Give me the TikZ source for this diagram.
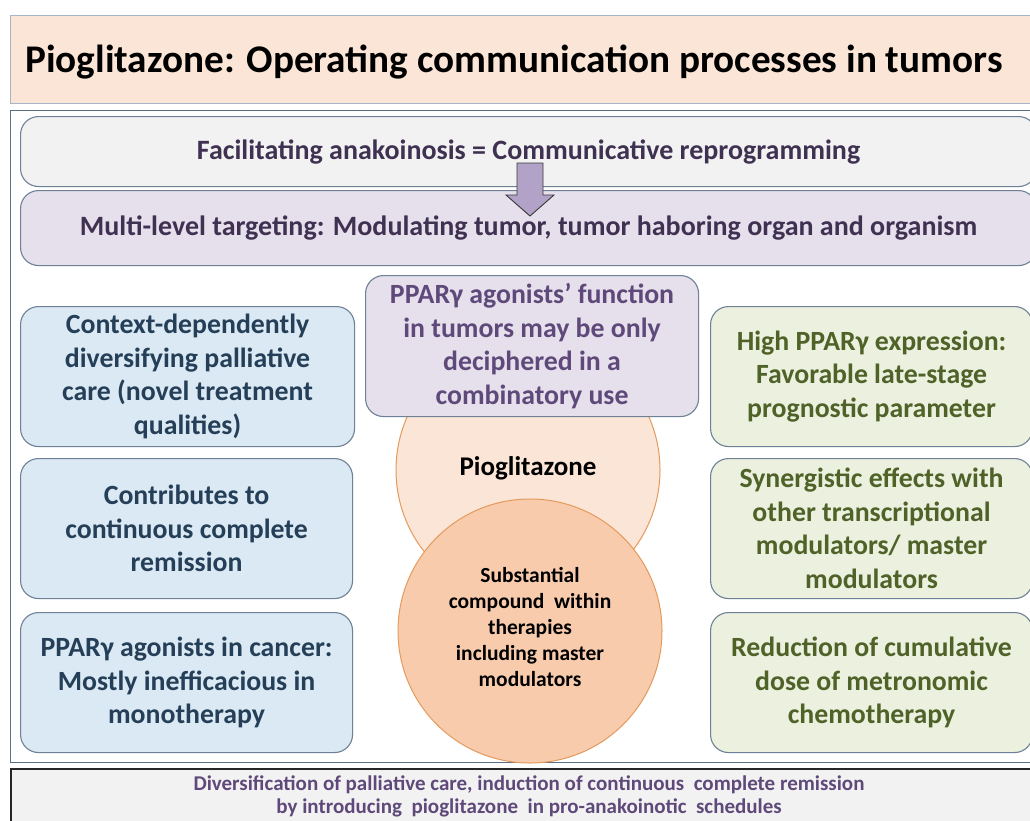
\documentclass[tikz,border=0pt]{standalone}
\usepackage{fontspec}
\setmainfont{Carlito}
\begin{document}
\begin{tikzpicture}[x=1pt,y=-1pt,
  frame/.style={draw=frameedge, line width=1.4pt},
  rbox/.style={draw=boxedge, line width=1.1pt, rounded corners=18pt},
  bodyfont/.style={font=\bfseries\fontsize{27.8}{33.5}\selectfont},
  lbox/.style={rbox, fill=leftfill, text=lefttext, bodyfont, align=center},
  gbox/.style={rbox, fill=rightfill, text=righttext, bodyfont, align=center},
  cbox/.style={rbox, fill=lav, text=centertext, bodyfont, align=center},
  circ/.style={circle, draw=orangeedge, line width=1pt}
]
\definecolor{peach}{HTML}{FBE5D6}
\definecolor{peach2}{HTML}{F8CBAD}
\definecolor{orangeedge}{HTML}{E49A5C}
\definecolor{lav}{HTML}{E6E0EC}
\definecolor{leftfill}{HTML}{DAE9F3}
\definecolor{rightfill}{HTML}{EBF0DF}
\definecolor{lefttext}{HTML}{253F58}
\definecolor{righttext}{HTML}{4F6228}
\definecolor{centertext}{HTML}{5F497A}
\definecolor{toptext}{HTML}{3F3151}
\definecolor{greyfill}{HTML}{F2F2F2}
\definecolor{arrowfill}{HTML}{B3A2C7}
\definecolor{frameedge}{HTML}{5C6E84}
\definecolor{boxedge}{HTML}{6F8196}
\definecolor{titleedge}{HTML}{A7B6C6}
\clip (0,0) rectangle (1030,820);
\fill[white] (0,0) rectangle (1030,820);
% title
\node[draw=titleedge, line width=1pt, fill=peach, minimum width=1040pt, minimum height=88pt, anchor=north west, inner sep=0pt] (titlebox) at (10,15) {};
\node[anchor=west, font=\bfseries\fontsize{39.2}{44}\selectfont, inner sep=0pt] (title) at (25,62) {Pioglitazone: Operating communication processes in tumors};
% outer frame
\node[frame, fill=white, minimum width=1040pt, minimum height=652pt, anchor=north west, inner sep=0pt] (outer) at (10,110) {};
% top boxes
\node[rbox, fill=greyfill, minimum width=1016pt, minimum height=70pt, anchor=north west, text=toptext, font=\bfseries\fontsize{28}{32}\selectfont] (facil) at (20,116) {Facilitating anakoinosis = Communicative reprogramming};
\node[rbox, fill=lav, minimum width=1016pt, minimum height=75pt, anchor=north west, text=toptext, font=\bfseries\fontsize{28}{32}\selectfont] (multi) at (20,190) {Multi-level targeting: Modulating tumor, tumor haboring organ and organism};
% arrow from facil to multi
\coordinate (atop) at (530,163);
\coordinate (atip) at (530,216);
\draw[fill=arrowfill, draw=black!55!gray, line width=0.9pt]
  ([shift={(-13,0)}]atop) -- ([shift={(13,0)}]atop) -- ([shift={(13,32)}]atop)
  -- ([shift={(24,32)}]atop) -- (atip) -- ([shift={(-24,32)}]atop)
  -- ([shift={(-13,32)}]atop) -- cycle;
% circles
\node[circ, fill=peach, minimum size=264pt] (pio) at (528,470) {};
\node[circ, fill=peach2, minimum size=264pt] (subst) at (530,631) {};
\node[align=center, font=\bfseries\fontsize{21.5}{26}\selectfont] (subtext) at (530,627) {Substantial\\compound\ \ within\\therapies\\including master\\modulators};
\node[font=\bfseries\fontsize{27}{30}\selectfont] (piotext) at (528,468) {Pioglitazone};
% centre box
\node[cbox, minimum width=333pt, minimum height=141pt, anchor=north west, inner sep=0pt] (ppar) at (365,275) {PPARγ agonists’ function\\in tumors may be only\\deciphered in a\\combinatory use};
% left boxes
\node[lbox, minimum width=334pt, minimum height=140pt, anchor=north west, inner sep=0pt] (l1) at (20,306) {Context-dependently\\diversifying palliative\\care (novel treatment\\qualities)};
\node[lbox, minimum width=332pt, minimum height=140pt, anchor=north west, inner sep=0pt] (l2) at (20,458) {Contributes to\\continuous complete\\remission};
\node[lbox, minimum width=332pt, minimum height=140pt, anchor=north west, inner sep=0pt] (l3) at (20,612) {PPARγ agonists in cancer:\\Mostly inefficacious in\\monotherapy};
% right boxes
\node[gbox, minimum width=322pt, minimum height=140pt, anchor=north west, inner sep=0pt] (r1) at (710,306) {High PPARγ expression:\\Favorable late-stage\\prognostic parameter};
\node[gbox, minimum width=322pt, minimum height=140pt, anchor=north west, inner sep=0pt] (r2) at (710,458) {Synergistic effects with\\other transcriptional\\modulators/ master\\modulators};
\node[gbox, minimum width=322pt, minimum height=140pt, anchor=north west, inner sep=0pt] (r3) at (710,612) {Reduction of cumulative\\dose of metronomic\\chemotherapy};
% bottom box
\node[draw=black!85, line width=1.6pt, fill=greyfill, minimum width=1040pt, minimum height=70pt, anchor=north west, inner sep=0pt] (bottom) at (10,768) {};
\node[text=centertext, font=\bfseries\fontsize{21}{22.5}\selectfont, align=center, anchor=north, inner sep=0pt] (btext) at (529,776) {Diversification of palliative care, induction of continuous\ \ complete remission\\by introducing\ \ pioglitazone\ \ in pro-anakoinotic\ \ schedules};
\end{tikzpicture}
\end{document}
